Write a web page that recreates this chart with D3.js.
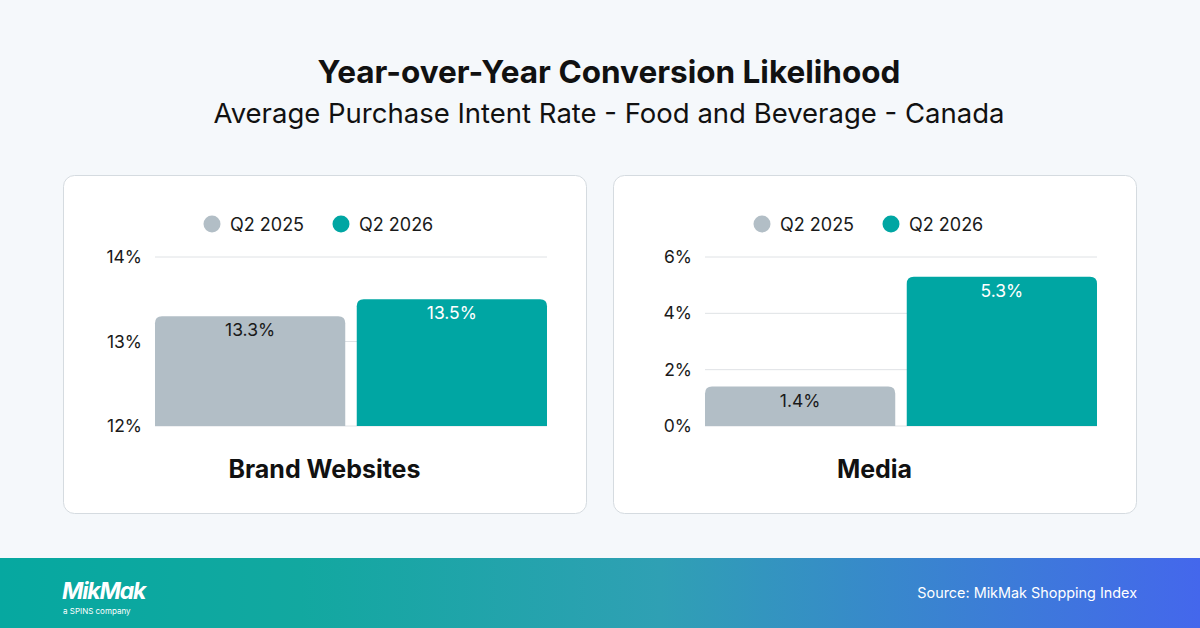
<!DOCTYPE html>
<html>
<head>
<meta charset="utf-8">
<script src="https://cdn.jsdelivr.net/npm/d3@7"></script>
<style>
  body { margin: 0; background: #f5f8fb; }
  svg { display: block; font-family: Inter, "Noto Sans", sans-serif; }
</style>
</head>
<body>
<div id="container"></div>
<script>
// data
let seriesNames = ["Q2 2025", "Q2 2026"];
let seriesColors = ["#b2bec6", "#00a6a3"];
let labelColors = ["#1a1a1a", "#ffffff"];
let panelTitles = ["Brand Websites", "Media"];
let brandValues = [13.3, 13.5];
let mediaValues = [1.4, 5.3];
let brandTicks = [12, 13, 14];
let mediaTicks = [0, 2, 4, 6];

let w = 1200;
let h = 628;

let viz = d3.select("#container")
  .append("svg")
    .attr("width", w)
    .attr("height", h)
;

viz.append("rect").attr("width", w).attr("height", h).attr("fill", "#f5f8fb");

// title (reference is centred slightly right of the middle)
let titleX = 609;
viz.append("text")
  .text("Year-over-Year Conversion Likelihood")
  .attr("x", titleX)
  .attr("y", 83)
  .attr("text-anchor", "middle")
  .attr("font-size", "31.5px")
  .attr("font-weight", 700)
  .attr("fill", "#111")
;
viz.append("text")
  .text("Average Purchase Intent Rate - Food and Beverage - Canada")
  .attr("x", titleX)
  .attr("y", 123)
  .attr("text-anchor", "middle")
  .attr("font-size", "27.5px")
  .attr("fill", "#111")
;

// one panel
function drawPanel(px, values, ticks, title){
  let pw = 523, ph = 338, py = 175;
  let g = viz.append("g").attr("transform", "translate(" + px + "," + py + ")");

  g.append("rect")
    .attr("x", 0.5).attr("y", 0.5)
    .attr("width", pw).attr("height", ph)
    .attr("rx", 11)
    .attr("fill", "#ffffff")
    .attr("stroke", "#d5dbe0")
  ;

  let left = 92, right = 484;
  let yScale = d3.scaleLinear().domain(d3.extent(ticks)).range([251, 82]);
  let xScale = d3.scaleBand().domain(seriesNames).range([left, right]).paddingInner(0.057);

  // grid
  g.selectAll(".grid").data(ticks).enter()
    .append("line")
      .attr("x1", left).attr("x2", right)
      .attr("y1", d => yScale(d)).attr("y2", d => yScale(d))
      .attr("stroke", "#dfe2e5")
  ;

  // y axis
  let yAxis = d3.axisLeft(yScale).tickValues(ticks).tickFormat(d => d + "%").tickSize(0).tickPadding(13);
  let yAxisGroup = g.append("g").attr("transform", "translate(" + left + ",0)").call(yAxis);
  yAxisGroup.select(".domain").remove();
  yAxisGroup.selectAll("text")
    .attr("font-family", "Inter, sans-serif")
    .attr("font-size", "17.5px")
    .attr("fill", "#1a1a1a")
  ;

  // bars (rounded top corners)
  let r = 7;
  let base = yScale(ticks[0]);
  g.selectAll(".bar").data(values).enter()
    .append("path")
      .attr("d", function(d, i){
        let x0 = xScale(seriesNames[i]);
        let x1 = x0 + xScale.bandwidth();
        let y0 = yScale(d);
        return "M" + x0 + "," + base +
          "V" + (y0 + r) +
          "Q" + x0 + "," + y0 + " " + (x0 + r) + "," + y0 +
          "H" + (x1 - r) +
          "Q" + x1 + "," + y0 + " " + x1 + "," + (y0 + r) +
          "V" + base + "Z";
      })
      .attr("fill", (d, i) => seriesColors[i])
  ;

  g.selectAll(".val").data(values).enter()
    .append("text")
      .text(d => d.toFixed(1) + "%")
      .attr("x", (d, i) => xScale(seriesNames[i]) + xScale.bandwidth()/2)
      .attr("y", d => yScale(d) + 20)
      .attr("text-anchor", "middle")
      .attr("font-size", "17.5px")
      .attr("fill", (d, i) => labelColors[i])
  ;

  // legend
  let legendX = [149, 278];
  seriesNames.forEach(function(name, i){
    g.append("circle")
      .attr("cx", legendX[i]).attr("cy", 49).attr("r", 8.5)
      .attr("fill", seriesColors[i]);
    g.append("text")
      .text(name)
      .attr("x", legendX[i] + 18).attr("y", 55.5)
      .attr("font-size", "18px")
      .attr("fill", "#1a1a1a");
  });

  // category title
  g.append("text")
    .text(title)
    .attr("x", pw/2)
    .attr("y", 303)
    .attr("text-anchor", "middle")
    .attr("font-size", "25px")
    .attr("font-weight", 700)
    .attr("fill", "#111")
  ;
}

drawPanel(63, brandValues, brandTicks, panelTitles[0]);
drawPanel(613, mediaValues, mediaTicks, panelTitles[1]);

// footer
let defs = viz.append("defs");
let grad = defs.append("linearGradient").attr("id", "foot").attr("x1", "0%").attr("x2", "100%").attr("y1", "0%").attr("y2", "0%");
grad.append("stop").attr("offset", "0%").attr("stop-color", "#06a8a0");
grad.append("stop").attr("offset", "25%").attr("stop-color", "#12a8a0");
grad.append("stop").attr("offset", "55%").attr("stop-color", "#2fa0b4");
grad.append("stop").attr("offset", "100%").attr("stop-color", "#4467ec");

viz.append("rect").attr("x", 0).attr("y", 558).attr("width", w).attr("height", 70).attr("fill", "url(#foot)");

viz.append("text")
  .text("MikMak")
  .attr("x", 62).attr("y", 599)
  .attr("font-size", "23px")
  .attr("font-weight", 700)
  .attr("font-style", "italic")
  .attr("letter-spacing", "-1.2px")
  .attr("fill", "#ffffff")
;
viz.append("text")
  .text("a SPINS company")
  .attr("x", 63).attr("y", 614)
  .attr("font-size", "8px")
  .attr("fill", "#ffffff")
;
viz.append("text")
  .text("Source: MikMak Shopping Index")
  .attr("x", 1137).attr("y", 598)
  .attr("text-anchor", "end")
  .attr("font-size", "14.4px")
  .attr("fill", "#ffffff")
;
</script>
</body>
</html>
